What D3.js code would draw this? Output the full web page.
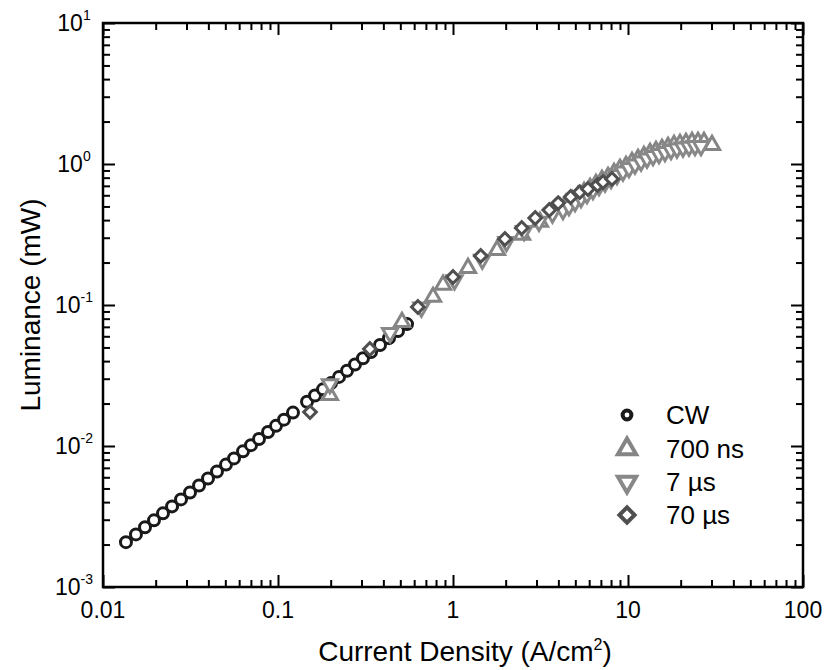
<!DOCTYPE html>
<html>
<head>
<meta charset="utf-8">
<script src="https://cdn.jsdelivr.net/npm/d3@7"></script>
<style>
  body { margin: 0; background: #fff; }
  text { font-family: "Liberation Sans", Arial, Helvetica, sans-serif; fill: #000; }
</style>
</head>
<body>
<svg id="chart" width="824" height="670"></svg>
<script>
// ---- Data: current density (A/cm^2) vs. luminance (mW) ----
const cwJ = [0.01353, 0.01543, 0.01738, 0.01956, 0.02202, 0.0248, 0.02791, 0.03142, 0.03538, 0.03981,
             0.04481, 0.05045, 0.05606, 0.0631, 0.07011, 0.07788, 0.08768, 0.0974, 0.1082, 0.1218,
             0.1465, 0.1627, 0.1808, 0.2009, 0.2232, 0.248, 0.2754, 0.306, 0.34, 0.3828, 0.4308, 0.485, 0.546];
const cwL = [0.00208, 0.00236, 0.00265, 0.00297, 0.00333, 0.00373, 0.00418, 0.00468, 0.00525, 0.00588,
             0.00659, 0.00738, 0.00817, 0.00916, 0.01014, 0.01122, 0.01257, 0.0139, 0.01538, 0.01725,
             0.02061, 0.0228, 0.02523, 0.02793, 0.0309, 0.0342, 0.03785, 0.04188, 0.04634, 0.052, 0.05821, 0.06531, 0.07318];

const ns700J = [0.198, 0.511, 0.769, 0.877, 1.218, 1.784, 2.48, 3.14,
                4.087, 4.42, 4.79, 5.18, 5.61, 6.07, 6.56, 7.1, 7.69, 8.32, 9.0, 9.74, 10.54, 11.41,
                12.34, 13.36, 14.45, 15.64, 16.93, 18.32, 19.82, 21.45, 23.21, 25.12, 27.18, 30.2];
const ns700L = [0.023, 0.0757, 0.114, 0.139, 0.183, 0.245, 0.314, 0.388,
                0.488, 0.52, 0.556, 0.593, 0.633, 0.676, 0.721, 0.771, 0.809, 0.864, 0.922, 0.968, 1.033, 1.084,
                1.14, 1.197, 1.237, 1.277, 1.32, 1.364, 1.387, 1.409, 1.432, 1.432, 1.432, 1.364];

const us7J = [0.198, 0.437, 0.66, 1.02, 1.47, 2.02, 2.55, 3.1, 3.7,
              4.25, 4.6, 4.98, 5.39, 5.83, 6.31, 6.83, 7.39, 8.0, 8.65, 9.36, 10.13, 10.96, 11.87,
              12.84, 13.9, 15.04, 16.27, 17.61, 19.05, 20.62, 22.31, 24.15, 26.13];
const us7L = [0.0275, 0.0633, 0.096, 0.15, 0.21, 0.28, 0.335, 0.39, 0.445,
              0.472, 0.504, 0.538, 0.574, 0.613, 0.654, 0.698, 0.739, 0.783, 0.836, 0.885, 0.937, 0.992, 1.042,
              1.094, 1.14, 1.178, 1.217, 1.257, 1.288, 1.309, 1.33, 1.343, 1.343];

const us70J = [0.1524, 0.335, 0.63, 1.0, 1.44, 1.98, 2.47, 2.95, 3.55, 3.99, 4.7, 5.3, 5.9, 6.7, 7.2, 8.1];
const us70L = [0.0174, 0.0488, 0.0968, 0.158, 0.223, 0.294, 0.352, 0.414, 0.472, 0.528, 0.583, 0.632, 0.665, 0.709, 0.745, 0.784];

const seriesNames = ["CW", "700 ns", "7 \u00b5s", "70 \u00b5s"];
const xTickLabels = ["0.01", "0.1", "1", "10", "100"];
const yTickExponents = ["-3", "-2", "-1", "0", "1"];

// ---- Layout ----
const svg = d3.select("#chart");
const plotLeft = 103, plotRight = 803, plotTop = 23, plotBottom = 587;

const x = d3.scaleLog().domain([0.01, 100]).range([plotLeft, plotRight]);
const y = d3.scaleLog().domain([1e-3, 10]).range([plotBottom, plotTop]);

const isDecade = v => Math.abs(Math.log10(v) - Math.round(Math.log10(v))) < 1e-9;
const majorX = x.ticks().filter(isDecade);
const minorX = x.ticks().filter(v => !isDecade(v));
const majorY = y.ticks().filter(isDecade);
const minorY = y.ticks().filter(v => !isDecade(v));

const majLen = 12, minLen = 7;

function drawTicks(axisFn, scale, values, len, transform) {
  const g = svg.append("g")
    .attr("transform", transform)
    .call(axisFn(scale).tickValues(values).tickSize(-len).tickSizeOuter(0).tickFormat(""));
  g.select(".domain").remove();
  g.selectAll(".tick line").attr("stroke", "#000").attr("stroke-width", 2);
  return g;
}

drawTicks(d3.axisBottom, x, minorX, minLen, `translate(0,${plotBottom})`);
drawTicks(d3.axisBottom, x, majorX, majLen, `translate(0,${plotBottom})`);
drawTicks(d3.axisTop, x, minorX, minLen, `translate(0,${plotTop})`);
drawTicks(d3.axisTop, x, majorX, majLen, `translate(0,${plotTop})`);
drawTicks(d3.axisLeft, y, minorY, minLen, `translate(${plotLeft},0)`);
drawTicks(d3.axisLeft, y, majorY, majLen, `translate(${plotLeft},0)`);
drawTicks(d3.axisRight, y, minorY, minLen, `translate(${plotRight},0)`);
drawTicks(d3.axisRight, y, majorY, majLen, `translate(${plotRight},0)`);

// frame
svg.append("rect")
  .attr("x", plotLeft).attr("y", plotTop)
  .attr("width", plotRight - plotLeft).attr("height", plotBottom - plotTop)
  .attr("fill", "none").attr("stroke", "#000").attr("stroke-width", 2.5);

// x tick labels
svg.append("g").selectAll("text")
  .data(majorX)
  .join("text")
  .attr("x", d => x(d))
  .attr("y", 618)
  .attr("text-anchor", "middle")
  .attr("font-size", 23)
  .text((d, i) => xTickLabels[i]);

// y tick labels: 10 with superscript exponent
const yl = svg.append("g").selectAll("text")
  .data(majorY)
  .join("text")
  .attr("x", 74)
  .attr("y", d => y(d) + 8)
  .attr("text-anchor", "middle")
  .attr("font-size", 23);
yl.append("tspan").text("10");
yl.append("tspan")
  .attr("font-size", 14)
  .attr("dy", -11)
  .text((d, i) => yTickExponents[i]);

// axis titles
const xt = svg.append("text")
  .attr("x", 465).attr("y", 661)
  .attr("text-anchor", "middle")
  .attr("font-size", 28);
xt.append("tspan").text("Current Density (A/cm");
xt.append("tspan").attr("font-size", 16).attr("dy", -11).text("2");
xt.append("tspan").attr("dy", 11).text(")");

svg.append("text")
  .attr("transform", "translate(40,305) rotate(-90)")
  .attr("text-anchor", "middle")
  .attr("font-size", 28)
  .text("Luminance (mW)");

// ---- Markers ----
const circleSym = (k) => d3.symbol().type(d3.symbolCircle).size(95 * k * k)();
const triSym = (k) => d3.symbol().type(d3.symbolTriangle).size(100 * k * k)();
const sqSym = (k) => d3.symbol().type(d3.symbolSquare).size(80 * k * k)();

const styles = [
  { path: circleSym, rot: 0, color: "#1a1a1a" },
  { path: triSym, rot: 0, color: "#858585" },
  { path: triSym, rot: 180, color: "#888888" },
  { path: sqSym, rot: 45, color: "#4f4f4f" }
];

const series = [
  cwJ.map((j, i) => [j, cwL[i]]),
  ns700J.map((j, i) => [j, ns700L[i]]),
  us7J.map((j, i) => [j, us7L[i]]),
  us70J.map((j, i) => [j, us70L[i]])
];

const plot = svg.append("g");
series.forEach((pts, si) => {
  const st = styles[si];
  plot.append("g").selectAll("path")
    .data(pts)
    .join("path")
    .attr("d", st.path(1))
    .attr("transform", d => `translate(${x(d[0])},${y(d[1])}) rotate(${st.rot})`)
    .attr("fill", "#fff")
    .attr("stroke", st.color)
    .attr("stroke-width", 3);
});

// ---- Legend ----
const legendY = [415, 449, 482, 515];
const legend = svg.append("g");
seriesNames.forEach((name, i) => {
  const st = styles[i];
  legend.append("path")
    .attr("d", st.path(i === 0 ? 0.8 : 1.2))
    .attr("transform", `translate(627,${legendY[i]}) rotate(${st.rot})`)
    .attr("fill", "#fff")
    .attr("stroke", st.color)
    .attr("stroke-width", 4);
  legend.append("text")
    .attr("x", 666)
    .attr("y", legendY[i] + 9)
    .attr("font-size", 26)
    .text(name);
});
</script>
</body>
</html>
